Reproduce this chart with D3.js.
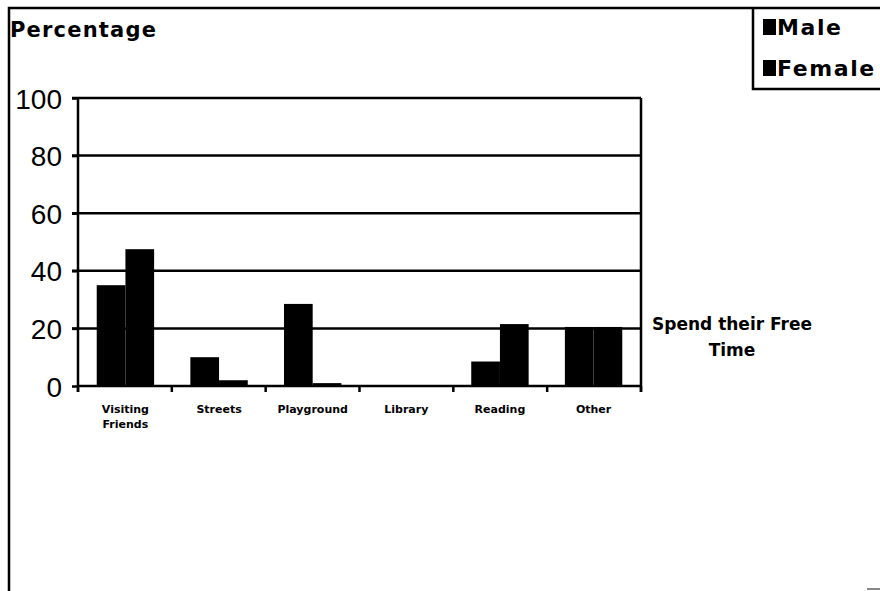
<!DOCTYPE html>
<html>
<head>
<meta charset="utf-8">
<script src="https://cdn.jsdelivr.net/npm/d3@7"></script>
<style>
  html, body { margin: 0; padding: 0; background: #fff; }
  svg { display: block; }
  text { fill: #000; }
  .reg { font-family: Arial, "Liberation Sans", sans-serif; }
  .heavy { font-family: "DejaVu Sans", Arial, sans-serif; font-weight: bold; }
</style>
</head>
<body>
<svg id="chart" width="880" height="591"></svg>
<script>
// Where children spend their free time, by sex (percent)
const categories = ["Visiting Friends", "Streets", "Playground", "Library", "Reading", "Other"];
const maleValues = [35, 10, 28.5, 0, 8.5, 20.5];
const femaleValues = [47.5, 2, 1, 0.3, 21.5, 20.5];
const seriesNames = ["Male", "Female"];
const yTicks = [0, 20, 40, 60, 80, 100];

const rows = categories.map((c, i) => ({ category: c, Male: maleValues[i], Female: femaleValues[i] }));

const svg = d3.select("#chart");
const plot = { left: 78, right: 641, top: 98, bottom: 386 };

const x = d3.scaleBand().domain(categories).range([plot.left, plot.right]).paddingInner(0.387).paddingOuter(0.2);
const xs = d3.scaleBand().domain(seriesNames).range([0, x.bandwidth()]);
const y = d3.scaleLinear().domain([0, 100]).range([plot.bottom, plot.top]);

// Outer frame (left and top edges)
svg.append("path")
  .attr("d", "M9,591 L9,8 L880,8")
  .attr("fill", "none").attr("stroke", "#000").attr("stroke-width", 2.5);

// Title
svg.append("text").attr("class", "heavy").attr("x", 10).attr("y", 37)
  .attr("font-size", 21).attr("letter-spacing", 1.2).text("Percentage");

// Horizontal gridlines
svg.append("g").selectAll("line").data(yTicks.filter(d => d > 0)).join("line")
  .attr("x1", plot.left - 6).attr("x2", plot.right)
  .attr("y1", d => y(d)).attr("y2", d => y(d))
  .attr("stroke", "#000").attr("stroke-width", 2.5);

// Bars
const groups = svg.append("g").selectAll("g").data(rows).join("g")
  .attr("transform", d => `translate(${x(d.category)},0)`);
groups.selectAll("rect").data(d => seriesNames.map(s => ({ s, v: d[s] }))).join("rect")
  .attr("x", d => xs(d.s)).attr("width", xs.bandwidth())
  .attr("y", d => y(d.v)).attr("height", d => y(0) - y(d.v))
  .attr("fill", "#000");

// Y axis
const yAxis = svg.append("g").attr("transform", `translate(${plot.left},0)`)
  .call(d3.axisLeft(y).tickValues(yTicks).tickSize(6).tickPadding(10).tickFormat(d3.format("d")));
yAxis.select(".domain").attr("stroke-width", 2.5).attr("d", `M0,${plot.top}V${plot.bottom + 6}`);
yAxis.selectAll(".tick line").attr("stroke-width", 2.5);
yAxis.selectAll(".tick text").attr("class", "reg").attr("font-size", 28)
  .attr("x", -16).attr("dy", "0.36em");

// X axis with ticks on category boundaries
const xAxis = svg.append("g").attr("transform", `translate(0,${plot.bottom})`);
xAxis.append("line").attr("x1", plot.left).attr("x2", plot.right)
  .attr("stroke", "#000").attr("stroke-width", 2.5);
const step = (plot.right - plot.left) / categories.length;
xAxis.selectAll(".xt").data(d3.range(categories.length + 1)).join("line")
  .attr("class", "xt")
  .attr("x1", i => plot.left + i * step).attr("x2", i => plot.left + i * step)
  .attr("y1", 0).attr("y2", 6)
  .attr("stroke", "#000").attr("stroke-width", 2.5);

// Right border of plot
svg.append("line").attr("x1", plot.right).attr("x2", plot.right)
  .attr("y1", plot.top).attr("y2", plot.bottom + 6)
  .attr("stroke", "#000").attr("stroke-width", 2.5);

// Category labels
const labels = svg.append("g").selectAll("text").data(categories).join("text")
  .attr("class", "heavy")
  .attr("x", d => x(d) + x.bandwidth() / 2).attr("y", 413)
  .attr("text-anchor", "middle").attr("font-size", 11);
labels.each(function (d) {
  const words = d.split(" ");
  const t = d3.select(this);
  words.forEach((w, i) => t.append("tspan").attr("x", x(d) + x.bandwidth() / 2).attr("dy", i ? 15 : 0).text(w));
});

// Axis title on the right
const side = svg.append("text").attr("class", "heavy").attr("x", 732).attr("y", 330)
  .attr("text-anchor", "middle").attr("font-size", 17);
side.append("tspan").attr("x", 732).text("Spend their Free");
side.append("tspan").attr("x", 732).attr("dy", 26).text("Time");

// Legend
svg.append("path").attr("d", "M753,8 L753,89 L880,89")
  .attr("fill", "none").attr("stroke", "#000").attr("stroke-width", 2.5);
const legend = svg.append("g").selectAll("g").data(seriesNames).join("g")
  .attr("transform", (d, i) => `translate(763,${19 + i * 41})`);
legend.append("rect").attr("width", 13).attr("height", 16).attr("fill", "#000");
legend.append("text").attr("class", "heavy").attr("x", 14).attr("y", 16)
  .attr("font-size", 22).attr("letter-spacing", 1.6).text(d => d);

// Small mark at lower right corner
svg.append("line").attr("x1", 867).attr("x2", 880).attr("y1", 589).attr("y2", 589)
  .attr("stroke", "#888").attr("stroke-width", 2);
</script>
</body>
</html>
